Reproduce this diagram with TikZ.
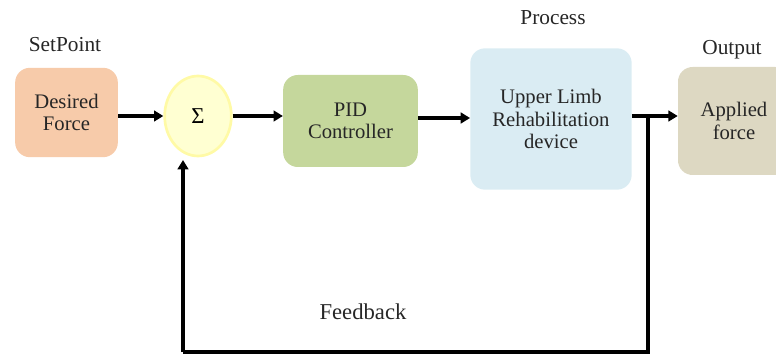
\documentclass[tikz,border=0pt]{standalone}
\usepackage{fontspec}
\setmainfont{Liberation Serif}
\usetikzlibrary{arrows.meta,shapes.geometric}

\definecolor{setcol}{HTML}{F7CBAA}
\definecolor{sumcol}{HTML}{FFFFD2}
\definecolor{pidcol}{HTML}{C5D79C}
\definecolor{proccol}{HTML}{DAECF3}
\definecolor{outcol}{HTML}{DDD8C2}

\tikzset{
	block/.style={rectangle, rounded corners=11pt, align=center, font=\fontsize{15.5}{17}\selectfont, text=black!85},
	sumnode/.style={ellipse, fill=sumcol, draw=yellow!35, line width=2pt, minimum width=50pt, minimum height=60pt, font=\fontsize{17}{20}\selectfont},
	tag/.style={font=\fontsize{16}{19}\selectfont, text=black!85},
	sig/.style={line width=3pt, -{Triangle[length=7pt,width=8pt]}}
}

\begin{document}
\begin{tikzpicture}[x=0.75pt,y=-0.75pt]

		\useasboundingbox (0,0) rectangle (776,360);

		% blocks
		\node[block, fill=setcol, minimum width=77pt, minimum height=67pt] (des) at (66.5,112.5) {Desired\\Force};
		\node[sumnode] (sum) at (198,116) {Σ};
		\node[block, fill=pidcol, minimum width=101pt, minimum height=69pt] (pid) at (350.5,121) {PID\\Controller};
		\node[block, fill=proccol, minimum width=121pt, minimum height=106pt] (proc) at (551,119) {Upper Limb\\Rehabilitation\\device};
		\node[block, fill=outcol, minimum width=84pt, minimum height=81pt] (appl) at (734,121) {Applied\\force};

		% labels
		\node[tag] (sp) at (65,45) {SetPoint};
		\node[tag] (pr) at (553,18) {Process};
		\node[tag] (op) at (732,50) {Output};
		\node[font=\fontsize{17}{20}\selectfont, text=black!85] (fb) at (363,312) {Feedback};

		\coordinate (split) at (648,116);

		% signals
		\draw[sig] (des.east |- sum) -- (sum.west);
		\draw[sig] (sum.east) -- (sum.east -| pid.west);
		\draw[sig] (pid.east |- 0,118) -- (proc.west |- 0,118);
		\draw[sig] (proc.east |- split) -- (appl.west |- split);
		\draw[line width=3pt] (split) -- (648,352) -- (183,352);
		\draw[sig] (183,352) -- (183,160);

	\end{tikzpicture}
\end{document}
